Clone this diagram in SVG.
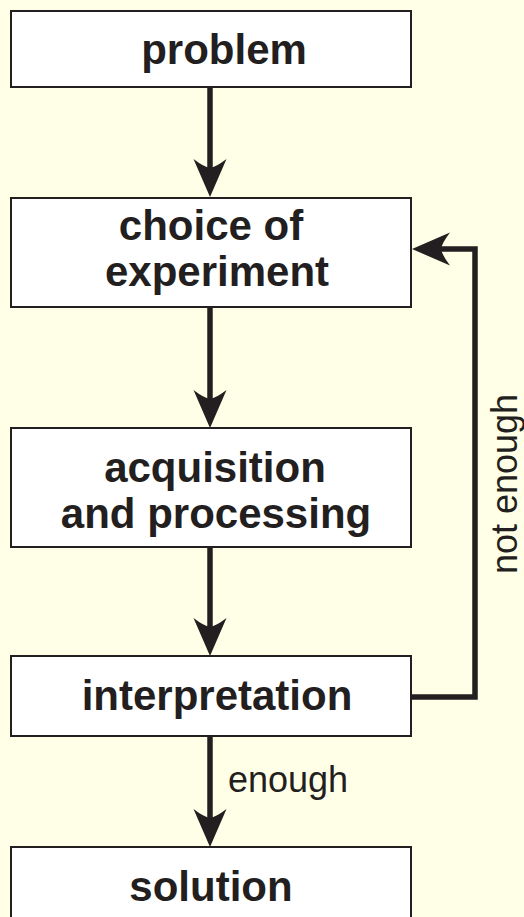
<svg xmlns="http://www.w3.org/2000/svg" width="524" height="917" viewBox="0 0 524 917">
<style>
.box{fill:#ffffff;stroke:#231f20;stroke-width:2}
.lbl{font-family:"Liberation Sans",Arial,sans-serif;font-weight:bold;font-size:42px;fill:#231f20;text-anchor:middle}
.edge{font-family:"Liberation Sans",Arial,sans-serif;font-size:36px;fill:#231f20}
.ln{fill:none;stroke:#231f20;stroke-width:5.5}
.ah{fill:#231f20}
</style>
<defs>
<path id="head" d="M0,0 L-16.5,-38 Q-6,-30 0,-29 Q6,-30 16.5,-38 Z"/>
</defs>
<rect width="524" height="917" fill="#fffee6"/>
<g id="connectors">
<line class="ln" x1="210" y1="87" x2="210" y2="170"/>
<use href="#head" class="ah" transform="translate(210,197)"/>
<line class="ln" x1="210" y1="307" x2="210" y2="402"/>
<use href="#head" class="ah" transform="translate(210,428)"/>
<line class="ln" x1="210" y1="547" x2="210" y2="630"/>
<use href="#head" class="ah" transform="translate(210,656)"/>
<line class="ln" x1="210" y1="736" x2="210" y2="821"/>
<use href="#head" class="ah" transform="translate(210,847)"/>
<polyline class="ln" points="411,697 475,697 475,249 440,249"/>
<use href="#head" class="ah" transform="translate(412,249) rotate(90)"/>
<text class="edge" x="228" y="792">enough</text>
<text class="edge" text-anchor="middle" transform="translate(517,484) rotate(-90)">not enough</text>
</g>
<g id="problem">
<rect class="box" x="11" y="11" width="400" height="76"/>
<text class="lbl" x="224" y="64">problem</text>
</g>
<g id="choice">
<rect class="box" x="11" y="198" width="400" height="109"/>
<text class="lbl" x="211" y="240">choice of</text>
<text class="lbl" x="217" y="286">experiment</text>
</g>
<g id="acquisition">
<rect class="box" x="11" y="428" width="400" height="119"/>
<text class="lbl" x="215" y="482">acquisition</text>
<text class="lbl" x="216" y="528">and processing</text>
</g>
<g id="interpretation">
<rect class="box" x="11" y="656" width="400" height="80"/>
<text class="lbl" x="217" y="710">interpretation</text>
</g>
<g id="solution">
<rect class="box" x="11" y="847" width="400" height="100"/>
<text class="lbl" x="211" y="901">solution</text>
</g>
</svg>
